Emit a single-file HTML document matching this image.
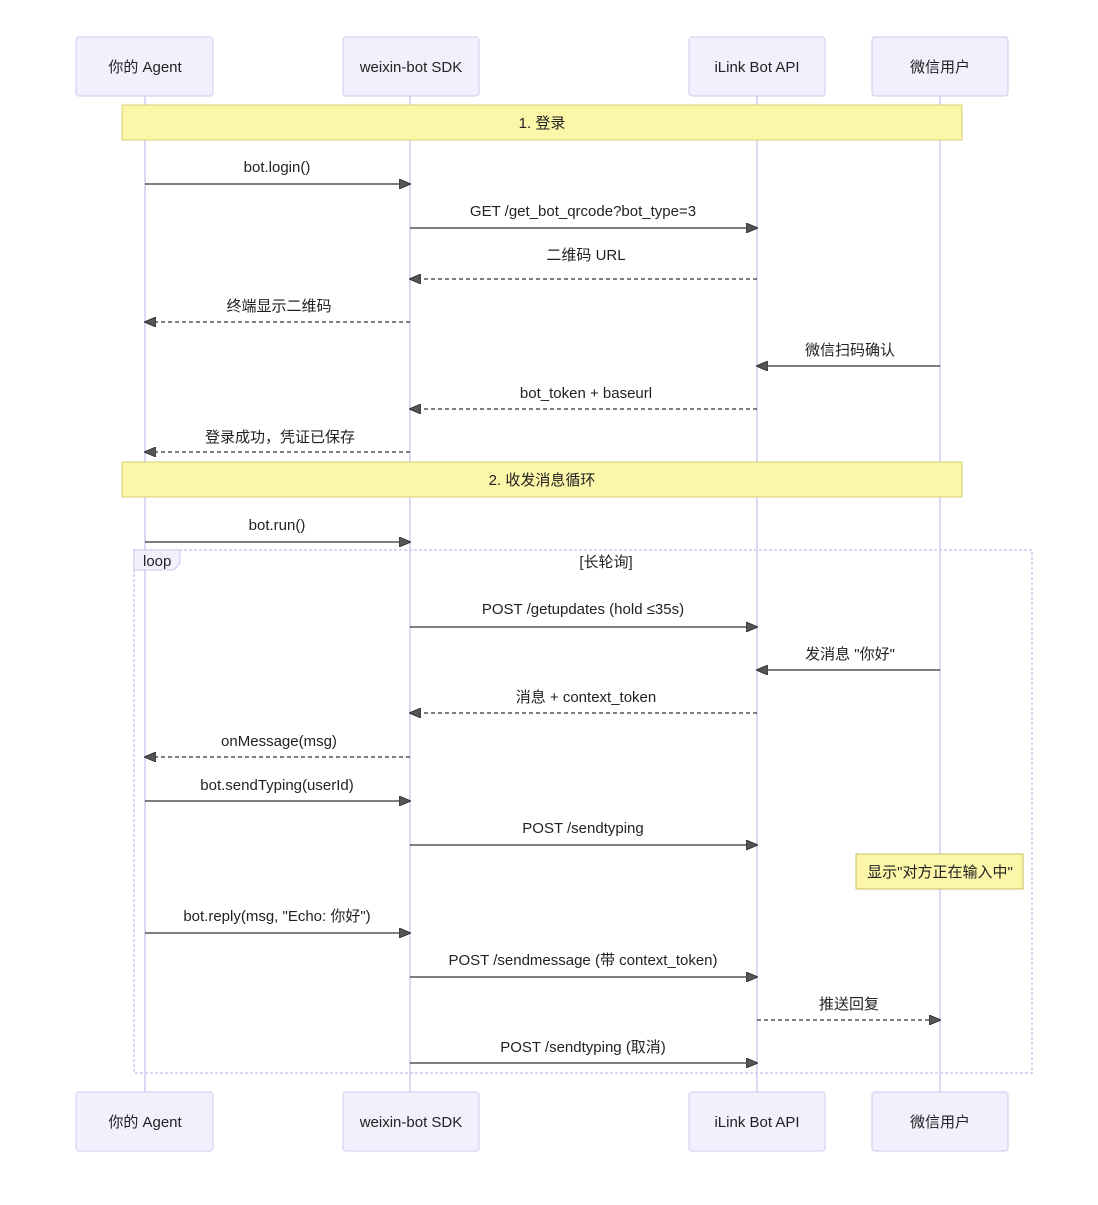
<!DOCTYPE html>
<html><head><meta charset="utf-8"><style>
body{margin:0;background:#fff}
text{font-family:"Liberation Sans","Noto Sans CJK SC",sans-serif;fill:#222;font-size:15px}
</style></head><body>
<svg width="1098" height="1200" viewBox="0 0 1098 1200" xmlns="http://www.w3.org/2000/svg">
<defs>
<marker id="a" markerWidth="12" markerHeight="10" refX="11" refY="5" orient="auto" markerUnits="userSpaceOnUse"><path d="M0,0 L12,5 L0,10 Z" fill="#555" stroke="#333"/></marker>
</defs>
<rect width="1098" height="1200" fill="#fff"/>
<g stroke="#d4ccf0" stroke-width="1.5">
<line x1="145" y1="96" x2="145" y2="1092"/><line x1="410" y1="96" x2="410" y2="1092"/>
<line x1="757" y1="96" x2="757" y2="1092"/><line x1="940" y1="96" x2="940" y2="1092"/>
</g>
<g fill="#f1f0fd" stroke="#d6d2f0" stroke-width="1.2">
<rect x="76" y="37" width="137" height="59" rx="3"/><rect x="343" y="37" width="136" height="59" rx="3"/>
<rect x="689" y="37" width="136" height="59" rx="3"/><rect x="872" y="37" width="136" height="59" rx="3"/>
<rect x="76" y="1092" width="137" height="59" rx="3"/><rect x="343" y="1092" width="136" height="59" rx="3"/>
<rect x="689" y="1092" width="136" height="59" rx="3"/><rect x="872" y="1092" width="136" height="59" rx="3"/>
</g>
<g text-anchor="middle">
<text x="145" y="72">你的 Agent</text><text x="411" y="72">weixin-bot SDK</text>
<text x="757" y="72">iLink Bot API</text><text x="940" y="72">微信用户</text>
<text x="145" y="1127">你的 Agent</text><text x="411" y="1127">weixin-bot SDK</text>
<text x="757" y="1127">iLink Bot API</text><text x="940" y="1127">微信用户</text>
</g>
<rect x="122" y="105" width="840" height="35" fill="#fbf6a8" stroke="#d8d070"/>
<text x="542" y="128" text-anchor="middle">1. 登录</text>
<rect x="122" y="462" width="840" height="35" fill="#fbf6a8" stroke="#d8d070"/>
<text x="542" y="485" text-anchor="middle">2. 收发消息循环</text>
<rect x="134" y="550" width="898" height="523" fill="none" stroke="#cfc8ee" stroke-width="1.5" stroke-dasharray="3,2"/>
<path d="M134,550 H180 V563 L174,570 H134 Z" fill="#f1f0fd" stroke="#cfc8ee"/>
<text x="143" y="566">loop</text>
<text x="606" y="567" text-anchor="middle">[长轮询]</text>
<rect x="856" y="854" width="167" height="35" fill="#fbf6a8" stroke="#c8c060"/>
<text x="940" y="877" text-anchor="middle">显示"对方正在输入中"</text>
<g stroke="#333" stroke-width="1.3" marker-end="url(#a)" fill="none">
<line x1="145" y1="184" x2="410" y2="184"/>
<line x1="410" y1="228" x2="757" y2="228"/>
<line x1="757" y1="279" x2="410" y2="279" stroke-dasharray="4,3"/>
<line x1="410" y1="322" x2="145" y2="322" stroke-dasharray="4,3"/>
<line x1="940" y1="366" x2="757" y2="366"/>
<line x1="757" y1="409" x2="410" y2="409" stroke-dasharray="4,3"/>
<line x1="410" y1="452" x2="145" y2="452" stroke-dasharray="4,3"/>
<line x1="145" y1="542" x2="410" y2="542"/>
<line x1="410" y1="627" x2="757" y2="627"/>
<line x1="940" y1="670" x2="757" y2="670"/>
<line x1="757" y1="713" x2="410" y2="713" stroke-dasharray="4,3"/>
<line x1="410" y1="757" x2="145" y2="757" stroke-dasharray="4,3"/>
<line x1="145" y1="801" x2="410" y2="801"/>
<line x1="410" y1="845" x2="757" y2="845"/>
<line x1="145" y1="933" x2="410" y2="933"/>
<line x1="410" y1="977" x2="757" y2="977"/>
<line x1="757" y1="1020" x2="940" y2="1020" stroke-dasharray="4,3"/>
<line x1="410" y1="1063" x2="757" y2="1063"/>
</g>
<g text-anchor="middle">
<text x="277" y="172">bot.login()</text>
<text x="583" y="216">GET /get_bot_qrcode?bot_type=3</text>
<text x="586" y="260" font-size="13">二维码 URL</text>
<text x="279" y="311" font-size="13">终端显示二维码</text>
<text x="850" y="355" font-size="13">微信扫码确认</text>
<text x="586" y="398">bot_token + baseurl</text>
<text x="280" y="442" font-size="13">登录成功，凭证已保存</text>
<text x="277" y="530">bot.run()</text>
<text x="583" y="614">POST /getupdates (hold ≤35s)</text>
<text x="850" y="659" font-size="13">发消息 "你好"</text>
<text x="586" y="702">消息 + context_token</text>
<text x="279" y="746">onMessage(msg)</text>
<text x="277" y="790">bot.sendTyping(userId)</text>
<text x="583" y="833">POST /sendtyping</text>
<text x="277" y="921">bot.reply(msg, "Echo: 你好")</text>
<text x="583" y="965">POST /sendmessage (带 context_token)</text>
<text x="849" y="1009" font-size="13">推送回复</text>
<text x="583" y="1052">POST /sendtyping (取消)</text>
</g>
</svg>
</body></html>
